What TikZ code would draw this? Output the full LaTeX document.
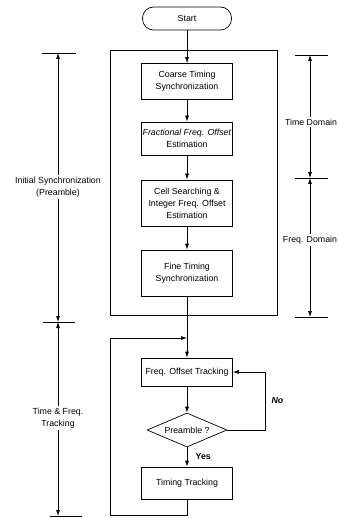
\documentclass[tikz,border=0pt]{standalone}
\usepackage{fontspec}
\setmainfont{Liberation Sans}
\usetikzlibrary{arrows.meta, shapes.geometric, positioning}

\tikzset{
  box/.style={draw, line width=0.7, minimum width=91, align=center, inner sep=1pt},
  arr/.style={line width=0.7, -{Latex[length=6pt,width=4pt]}},
  tick/.style={line width=0.7},
  dimtext/.style={align=center, inner sep=1.5pt},
}

\begin{document}
\begin{tikzpicture}[x=1pt, y=-1pt, font=\fontsize{8.8}{12}\selectfont]
\useasboundingbox (0,0) rectangle (338,518);

% flow chart
\node[draw, line width=0.7, rounded corners=11, minimum width=89, minimum height=23] (start) at (187,18.5) {Start};
\node[draw, line width=0.7, minimum width=167, minimum height=265] (sync) at (193.5,182.5) {};
\node[box, minimum height=36] (coarse) at (187,81.5) {Coarse Timing\\Synchronization};
\node[box, minimum height=33] (frac) at (187,138.5) {\textit{Fractional Freq. Offset}\\Estimation};
\node[box, minimum height=46] (cell) at (187,203) {Cell Searching \&\\Integer Freq. Offset\\Estimation};
\node[box, minimum height=46] (fine) at (187,273) {Fine Timing\\Synchronization};
\node[box, minimum height=28] (fot) at (187,372) {Freq. Offset Tracking};
\node[draw, line width=0.7, diamond, aspect=2.4, minimum width=80, minimum height=34, inner sep=0pt] (pre) at (187,430) {Preamble ?};
\node[box, minimum height=32] (tt) at (187,483) {Timing Tracking};

\coordinate (join) at (187,338);
\coordinate (lbot) at (110,515);

\draw[arr] (start) -- (coarse);
\draw[arr] (coarse) -- (frac);
\draw[arr] (frac) -- (cell);
\draw[arr] (cell) -- (fine);
\draw[arr] (fine) -- (fot);
\draw[arr] (fot) -- (pre);
\draw[arr] (pre) -- (tt) node[pos=0.45, right=5pt, font=\fontsize{8.8}{12}\bfseries] {Yes};
\draw[arr] (pre.east) -| ([xshift=32]fot.east) node[pos=0.75, right=3pt, font=\fontsize{8.8}{12}\bfseries\itshape] {No} -- (fot.east);
\draw[arr] (tt.south) |- (lbot) |- (join);

% left dimensions
\node[dimtext] (init) at (58,187) {Initial Synchronization\\(Preamble)};
\node[dimtext] (track) at (58,418) {Time \& Freq.\\Tracking};
\coordinate (ltop) at (58,53);
\coordinate (lmid) at (58,322);
\coordinate (lend) at (58,516);
\draw[tick] (42,53) -- (76,53);
\draw[tick] (43,322) -- (75,322);
\draw[tick] (50,516) -- (82,516);
\draw[arr] (init) -- (ltop);
\draw[arr] (init) -- (lmid);
\draw[arr] (track) -- (lmid);
\draw[arr] (track) -- (lend);

% right dimensions
\node[dimtext] (tdom) at (311,122) {Time Domain};
\node[dimtext] (fdom) at (310,240) {Freq. Domain};
\coordinate (rtop) at (310,55);
\coordinate (rmid) at (310,178);
\coordinate (rend) at (310,317);
\draw[tick] (295,55) -- (328,55);
\draw[tick] (295,178) -- (328,178);
\draw[tick] (295,317) -- (328,317);
\draw[arr] (tdom.north -| rtop) -- (rtop);
\draw[arr] (tdom.south -| rtop) -- (rmid);
\draw[arr] (fdom.north -| rtop) -- (rmid);
\draw[arr] (fdom.south -| rtop) -- (rend);
\end{tikzpicture}
\end{document}
